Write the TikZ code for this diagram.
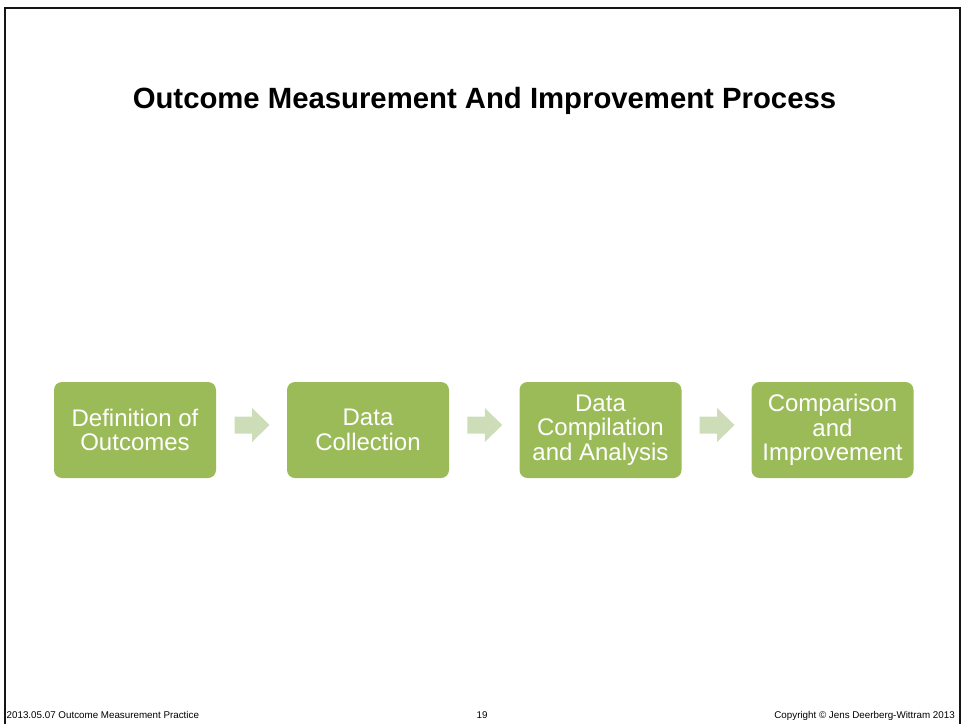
\documentclass[tikz,border=0pt]{standalone}
\usepackage{fontspec}
\setmainfont{Liberation Sans}
\usetikzlibrary{calc}
\definecolor{boxgreen}{HTML}{9BBB59}
\definecolor{arrowgreen}{HTML}{CDDDB7}
\definecolor{framegray}{HTML}{151515}
\begin{document}
\begin{tikzpicture}[x=1pt,y=-1pt,
  stepbox/.style={fill=boxgreen, rounded corners=8pt, minimum width=162pt,
    minimum height=96pt, text=white, align=center, inner sep=0pt,
    font=\fontsize{24}{24.5}\selectfont},
  flowarrow/.style={fill=arrowgreen},
  footer/.style={inner sep=0pt, font=\fontsize{9.8}{11}\selectfont}]
\useasboundingbox (0,0) rectangle (964,724);
% slide frame
\draw[line width=2pt, framegray] (4.5,724) -- (4.5,8) -- (960,8) -- (960,724);
% title
\node[anchor=base, inner sep=0pt, font=\bfseries\fontsize{29.3}{32}\selectfont]
  (title) at (484.5,108) {Outcome Measurement And Improvement Process};
% process steps
\node[stepbox] (b1) at (135,430) {Definition of\\Outcomes};
\node[stepbox] (b2) at (368,430) {Data\\Collection};
\node[stepbox] (b3) at (600.5,430) {Data\\Compilation\\and Analysis};
\node[stepbox] (b4) at (832.5,430) {Comparison\\and\\Improvement};
% block arrows between steps
\foreach \p/\q/\n in {b1/b2/a1, b2/b3/a2, b3/b4/a3}{
  \coordinate (\n) at ($(\p.east)!0.5!(\q.west)+(0.5,-5)$);
  \fill[flowarrow, shift={(\n)}] (-17.5,-8.5) -- (0,-8.5) -- (0,-17) -- (17.5,0)
    -- (0,17) -- (0,8.5) -- (-17.5,8.5) -- cycle;
}
% footer
\node[footer, anchor=base west] (fl) at (6.5,718) {2013.05.07 Outcome Measurement Practice};
\node[footer, anchor=base] (fc) at (482,718) {19};
\node[footer, anchor=base east] (fr) at (955,718) {Copyright © Jens Deerberg-Wittram 2013};
\end{tikzpicture}
\end{document}
